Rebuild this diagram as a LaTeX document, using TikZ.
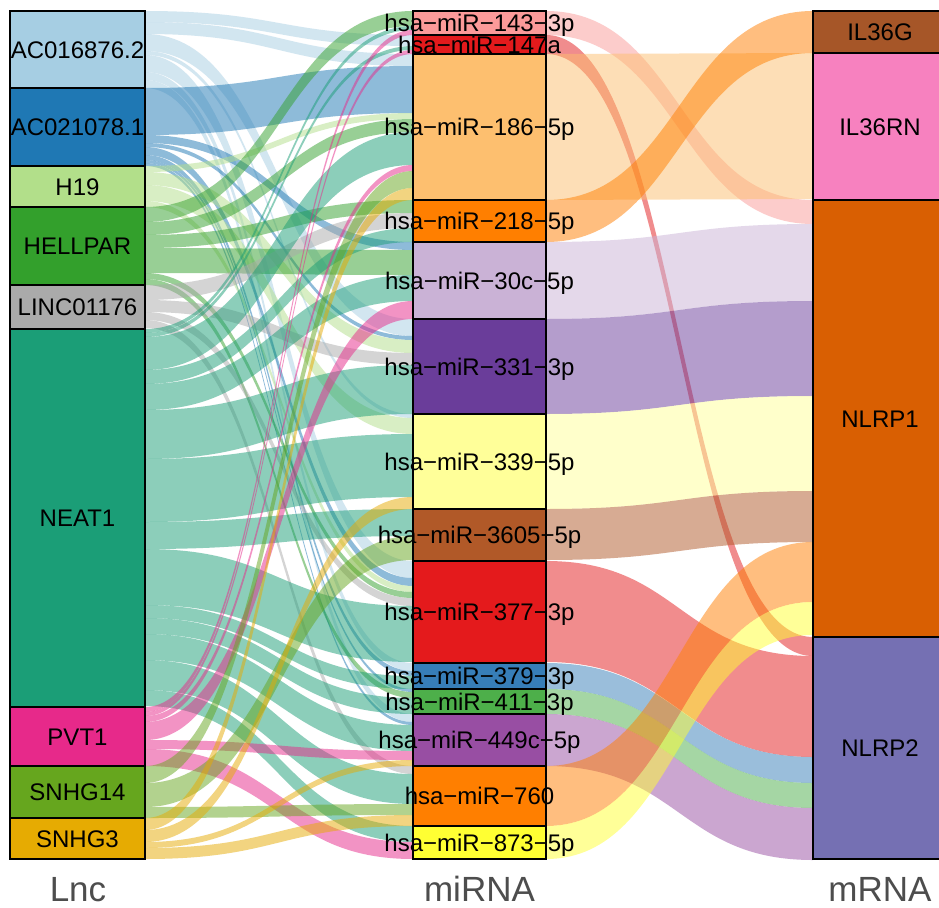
\documentclass[tikz,border=0pt]{standalone}
\usepackage{fontspec}
\setmainfont{Liberation Sans}
% Lnc colours
\definecolor{cA}{HTML}{A6CEE3}
\definecolor{cB}{HTML}{1F78B4}
\definecolor{cC}{HTML}{B2DF8A}
\definecolor{cD}{HTML}{33A02C}
\definecolor{cE}{HTML}{AAAAAA}
\definecolor{cF}{HTML}{1B9E77}
\definecolor{cG}{HTML}{E7298A}
\definecolor{cH}{HTML}{66A61E}
\definecolor{cI}{HTML}{E6AB02}
% miRNA colours
\definecolor{cm1}{HTML}{FB9A99}
\definecolor{cm2}{HTML}{E31A1C}
\definecolor{cm3}{HTML}{FDBF6F}
\definecolor{cm4}{HTML}{FF7F00}
\definecolor{cm5}{HTML}{CAB2D6}
\definecolor{cm6}{HTML}{6A3D9A}
\definecolor{cm7}{HTML}{FFFF99}
\definecolor{cm8}{HTML}{B15928}
\definecolor{cm9}{HTML}{E41A1C}
\definecolor{cm10}{HTML}{377EB8}
\definecolor{cm11}{HTML}{4DAF4A}
\definecolor{cm12}{HTML}{984EA3}
\definecolor{cm13}{HTML}{FF7F00}
\definecolor{cm14}{HTML}{FFFF33}
% mRNA colours
\definecolor{cnG}{HTML}{A65628}
\definecolor{cnRN}{HTML}{F781BF}
\definecolor{cnP1}{HTML}{D95F02}
\definecolor{cnP2}{HTML}{7570B3}
\definecolor{axgray}{HTML}{4D4D4D}

\newcommand\labfont{\fontsize{24}{28}\selectfont}
\newcommand\axfont{\fontsize{35}{40}\selectfont}
\newcommand\setoff[2]{\expandafter\xdef\csname off#1\endcsname{#2}}
% band: src key, dst key, weight, colour, x1, x2
\newcommand\band[6]{%
  \pgfmathsetmacro\ya{\csname off#1\endcsname}%
  \pgfmathsetmacro\yb{\csname off#2\endcsname}%
  \pgfmathsetmacro\yc{\ya+#3}%
  \pgfmathsetmacro\yd{\yb+#3}%
  \pgfmathsetmacro\xm{(#5+#6)/2}%
  \fill[#4, flowfill] (#5,\ya) .. controls (\xm,\ya) and (\xm,\yb) .. (#6,\yb)
     -- (#6,\yd) .. controls (\xm,\yd) and (\xm,\yc) .. (#5,\yc) -- cycle;%
  \expandafter\xdef\csname off#1\endcsname{\yc}%
  \expandafter\xdef\csname off#2\endcsname{\yd}%
}
\newcommand\lf[4]{\band{#1}{#2}{#3}{c#1}{145}{413}}
\newcommand\rf[3]{\band{R#1}{#2}{#3}{c#1}{546}{813}}
% stratum box: name, x1, x2, y1, y2, colour
\newcommand\strat[6]{%
  \pgfmathsetmacro\cx{(#2+#3)/2}%
  \pgfmathsetmacro\cy{(#4+#5)/2}%
  \pgfmathsetmacro\bw{#3-#2}%
  \pgfmathsetmacro\bh{#5-#4}%
  \node[stratbox, fill=#6, minimum width=\bw pt, minimum height=\bh pt] (#1) at (\cx,\cy) {};%
}
\newcommand\slab[2]{\node[stratlab] (#1-t) at (#1.center) {#2};}

\tikzset{
  stratbox/.style={draw=black, line width=1.4pt, inner sep=0pt, outer sep=0pt},
  stratlab/.style={inner sep=0pt, text height=17.2pt, text depth=0pt, font=\labfont, text=black},
  axislab/.style={inner sep=0pt, anchor=base, font=\axfont, text=axgray},
  flowfill/.style={fill opacity=0.5},
}

\begin{document}
\begin{tikzpicture}[x=1pt, y=-1pt]
\useasboundingbox (0,0) rectangle (939,907);
\fill[white] (0,0) rectangle (939,907);

% ---------- offsets ----------
\setoff{A}{11}\setoff{B}{88}\setoff{C}{166}\setoff{D}{207}\setoff{E}{285}
\setoff{F}{329}\setoff{G}{707}\setoff{H}{766}\setoff{I}{818}
\setoff{m1}{11}\setoff{m2}{35}\setoff{m3}{54}\setoff{m4}{200}\setoff{m5}{242}
\setoff{m6}{319}\setoff{m7}{414}\setoff{m8}{509}\setoff{m9}{561}\setoff{m10}{663}
\setoff{m11}{689}\setoff{m12}{714}\setoff{m13}{766}\setoff{m14}{826}
\setoff{Rm1}{11}\setoff{Rm2}{35}\setoff{Rm3}{54}\setoff{Rm4}{200}\setoff{Rm5}{242}
\setoff{Rm6}{319}\setoff{Rm7}{414}\setoff{Rm8}{509}\setoff{Rm9}{561}\setoff{Rm10}{663}
\setoff{Rm11}{689}\setoff{Rm12}{714}\setoff{Rm13}{766}\setoff{Rm14}{826}
\setoff{nG}{11}\setoff{nRN}{53}\setoff{nP1}{200}\setoff{nP2}{637}

% ---------- Lnc -> miRNA flows ----------
% AC016876.2
\lf{A}{m2}{11}{}\lf{A}{m3}{12}{}\lf{A}{m6}{17}{}\lf{A}{m7}{4}{}\lf{A}{m9}{17}{}\lf{A}{m10}{8}{}\lf{A}{m12}{8}{}
% AC021078.1
\lf{B}{m3}{47}{}\lf{B}{m5}{8}{}\lf{B}{m6}{4}{}\lf{B}{m9}{8}{}\lf{B}{m10}{5}{}\lf{B}{m11}{3}{}\lf{B}{m12}{3}{}
% H19
\lf{C}{m3}{6}{}\lf{C}{m6}{13}{}\lf{C}{m7}{16}{}\lf{C}{m9}{6}{}
% HELLPAR
\lf{D}{m1}{15}{}\lf{D}{m3}{13}{}\lf{D}{m4}{13}{}\lf{D}{m5}{25}{}\lf{D}{m9}{6}{}\lf{D}{m11}{6}{}
% LINC01176
\lf{E}{m4}{15}{}\lf{E}{m6}{12}{}\lf{E}{m9}{8}{}\lf{E}{m13}{8}{}
% NEAT1
\lf{F}{m1}{4}{}\lf{F}{m2}{4}{}\lf{F}{m3}{33}{}\lf{F}{m4}{14}{}\lf{F}{m5}{26}{}\lf{F}{m6}{49}{}
\lf{F}{m7}{63}{}\lf{F}{m8}{27}{}\lf{F}{m9}{56}{}\lf{F}{m10}{13}{}\lf{F}{m11}{16}{}\lf{F}{m12}{26}{}
\lf{F}{m13}{30}{}\lf{F}{m14}{16}{}
% PVT1
\lf{G}{m1}{5}{}\lf{G}{m2}{4}{}\lf{G}{m3}{6}{}\lf{G}{m5}{18}{}\lf{G}{m12}{9}{}\lf{G}{m14}{17}{}
% SNHG14
\lf{H}{m3}{17}{}\lf{H}{m8}{24}{}\lf{H}{m13}{11}{}
% SNHG3
\lf{I}{m3}{12}{}\lf{I}{m7}{12}{}\lf{I}{m12}{6}{}\lf{I}{m13}{11}{}

% ---------- miRNA -> mRNA flows ----------
\rf{m1}{nP1}{24}\rf{m2}{nP2}{19}\rf{m3}{nRN}{146}\rf{m4}{nG}{42}
\rf{m5}{nP1}{77}\rf{m6}{nP1}{95}\rf{m7}{nP1}{95}\rf{m8}{nP1}{51}
\rf{m9}{nP2}{101}\rf{m10}{nP2}{26}\rf{m11}{nP2}{25}\rf{m12}{nP2}{52}
\rf{m13}{nP1}{60}\rf{m14}{nP1}{33}

% ---------- strata ----------
\strat{lA}{10}{145}{11}{88}{cA}
\strat{lB}{10}{145}{88}{166}{cB}
\strat{lC}{10}{145}{166}{207}{cC}
\strat{lD}{10}{145}{207}{285}{cD}
\strat{lE}{10}{145}{285}{329}{cE}
\strat{lF}{10}{145}{329}{707}{cF}
\strat{lG}{10}{145}{707}{766}{cG}
\strat{lH}{10}{145}{766}{818}{cH}
\strat{lI}{10}{145}{818}{859}{cI}

\strat{r1}{413}{546}{11}{35}{cm1}
\strat{r2}{413}{546}{35}{54}{cm2}
\strat{r3}{413}{546}{54}{200}{cm3}
\strat{r4}{413}{546}{200}{242}{cm4}
\strat{r5}{413}{546}{242}{319}{cm5}
\strat{r6}{413}{546}{319}{414}{cm6}
\strat{r7}{413}{546}{414}{509}{cm7}
\strat{r8}{413}{546}{509}{561}{cm8}
\strat{r9}{413}{546}{561}{663}{cm9}
\strat{r10}{413}{546}{663}{689}{cm10}
\strat{r11}{413}{546}{689}{714}{cm11}
\strat{r12}{413}{546}{714}{766}{cm12}
\strat{r13}{413}{546}{766}{826}{cm13}
\strat{r14}{413}{546}{826}{859}{cm14}

\strat{tG}{813}{947}{11}{53}{cnG}
\strat{tRN}{813}{947}{53}{200}{cnRN}
\strat{tP1}{813}{947}{200}{637}{cnP1}
\strat{tP2}{813}{947}{637}{859}{cnP2}

% ---------- labels ----------
\slab{lA}{AC016876.2}\slab{lB}{AC021078.1}\slab{lC}{H19}\slab{lD}{HELLPAR}
\slab{lE}{LINC01176}\slab{lF}{NEAT1}\slab{lG}{PVT1}\slab{lH}{SNHG14}\slab{lI}{SNHG3}

\slab{r1}{hsa−miR−143−3p}\slab{r2}{hsa−miR−147a}\slab{r3}{hsa−miR−186−5p}
\slab{r4}{hsa−miR−218−5p}\slab{r5}{hsa−miR−30c−5p}\slab{r6}{hsa−miR−331−3p}
\slab{r7}{hsa−miR−339−5p}\slab{r8}{hsa−miR−3605−5p}\slab{r9}{hsa−miR−377−3p}
\slab{r10}{hsa−miR−379−3p}\slab{r11}{hsa−miR−411−3p}\slab{r12}{hsa−miR−449c−5p}
\slab{r13}{hsa−miR−760}\slab{r14}{hsa−miR−873−5p}

\node[stratlab] (tG-t) at (880,32) {IL36G};
\node[stratlab] (tRN-t) at (880,126.5) {IL36RN};
\node[stratlab] (tP1-t) at (880,418.5) {NLRP1};
\node[stratlab] (tP2-t) at (880,748) {NLRP2};

\node[axislab] (axL) at (78,901) {Lnc};
\node[axislab] (axM) at (479.5,901) {miRNA};
\node[axislab] (axR) at (880,901) {mRNA};
\end{tikzpicture}
\end{document}
